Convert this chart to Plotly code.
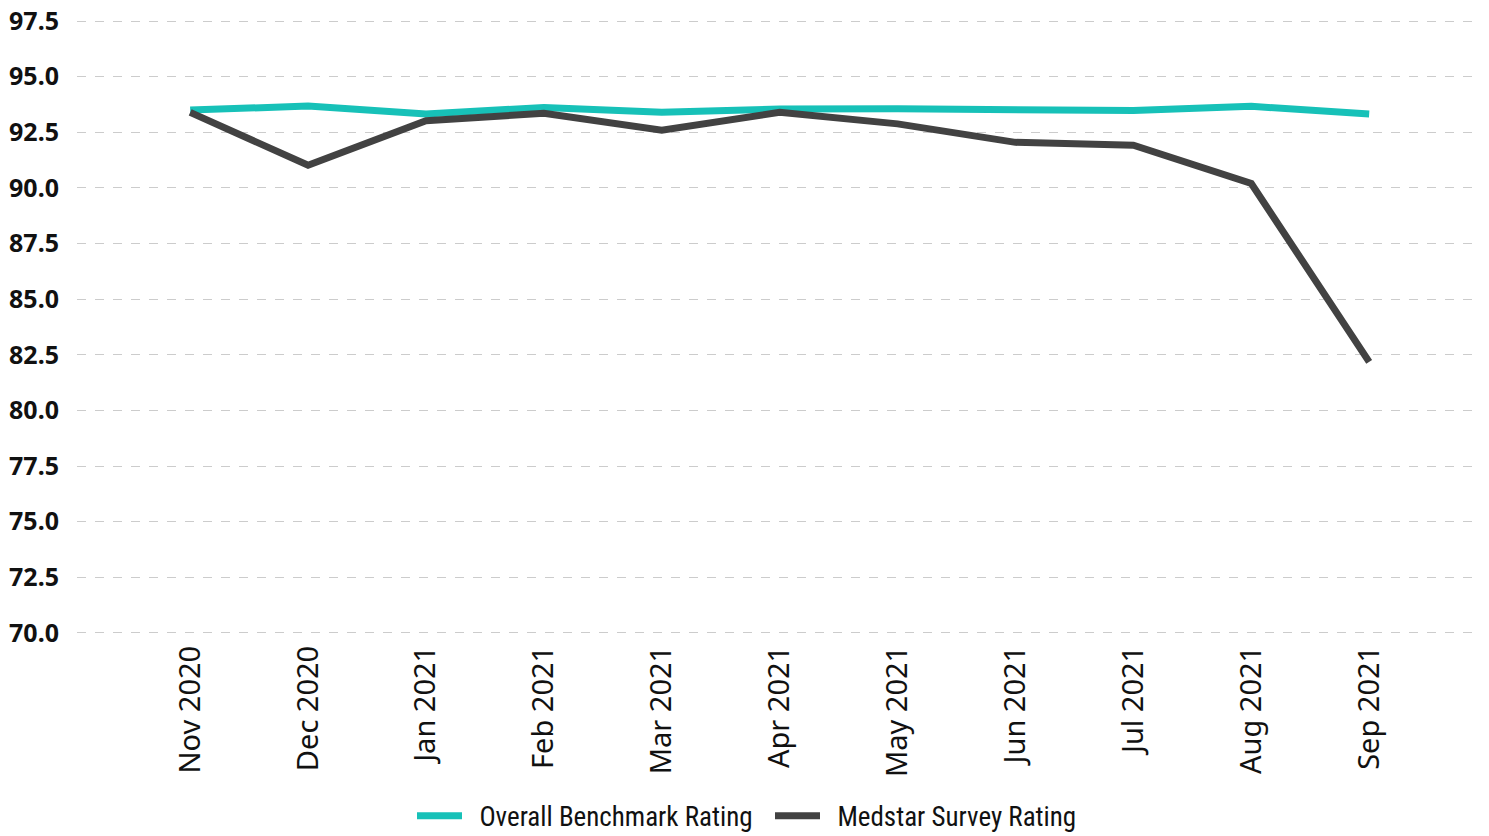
import plotly.graph_objects as go

months = ["Nov 2020", "Dec 2020", "Jan 2021", "Feb 2021", "Mar 2021", "Apr 2021",
          "May 2021", "Jun 2021", "Jul 2021", "Aug 2021", "Sep 2021"]
benchmark = [93.5, 93.68, 93.32, 93.62, 93.4, 93.55, 93.56, 93.54, 93.48, 93.67, 93.32]
medstar = [93.4, 91.02, 93.02, 93.36, 92.6, 93.4, 92.88, 92.05, 91.92, 90.2, 82.18]
y_ticks = [70.0, 72.5, 75.0, 77.5, 80.0, 82.5, 85.0, 87.5, 90.0, 92.5, 95.0, 97.5]
series_names = ["Overall Benchmark Rating", "Medstar Survey Rating"]

fig = go.Figure()
fig.add_trace(go.Scatter(x=months, y=benchmark, mode="lines",
                         name="\u00a0\u00a0" + series_names[0],
                         line=dict(color="#17C1B8", width=7)))
fig.add_trace(go.Scatter(x=months, y=medstar, mode="lines",
                         name="\u00a0\u00a0" + series_names[1],
                         line=dict(color="#424242", width=7)))

fig.update_layout(
    width=1481, height=828,
    margin=dict(l=69, r=9, t=12, b=202, autoexpand=False),
    paper_bgcolor="white", plot_bgcolor="white",
    showlegend=True,
    legend=dict(orientation="h", xref="container", yref="container",
                x=404 / 1481, xanchor="left", y=0.024, yanchor="middle",
                font=dict(family="Roboto Condensed, DejaVu Sans Condensed, Roboto", size=27,
                          color="#111111"),
                itemwidth=45, entrywidth=298, tracegroupgap=0),
    xaxis=dict(type="category", range=[-0.96, 10.94], showgrid=False, zeroline=False,
               showline=False, tickangle=-90,
               tickfont=dict(family="Noto Sans", size=29, color="#111111"),
               ticks="", ticklabelstandoff=5),
    yaxis=dict(range=[69.95, 97.55], tickvals=y_ticks, tickformat=".1f",
               showgrid=True, gridcolor="#CCCCCC", griddash="dash", gridwidth=1,
               zeroline=False, showline=False, ticklabeloverflow="allow",
               tickfont=dict(family="Noto Sans", size=25, color="#111111", weight="bold"),
               ticks="outside", ticklen=12, tickcolor="rgba(0,0,0,0)"),
)

fig.write_html("out.html")
